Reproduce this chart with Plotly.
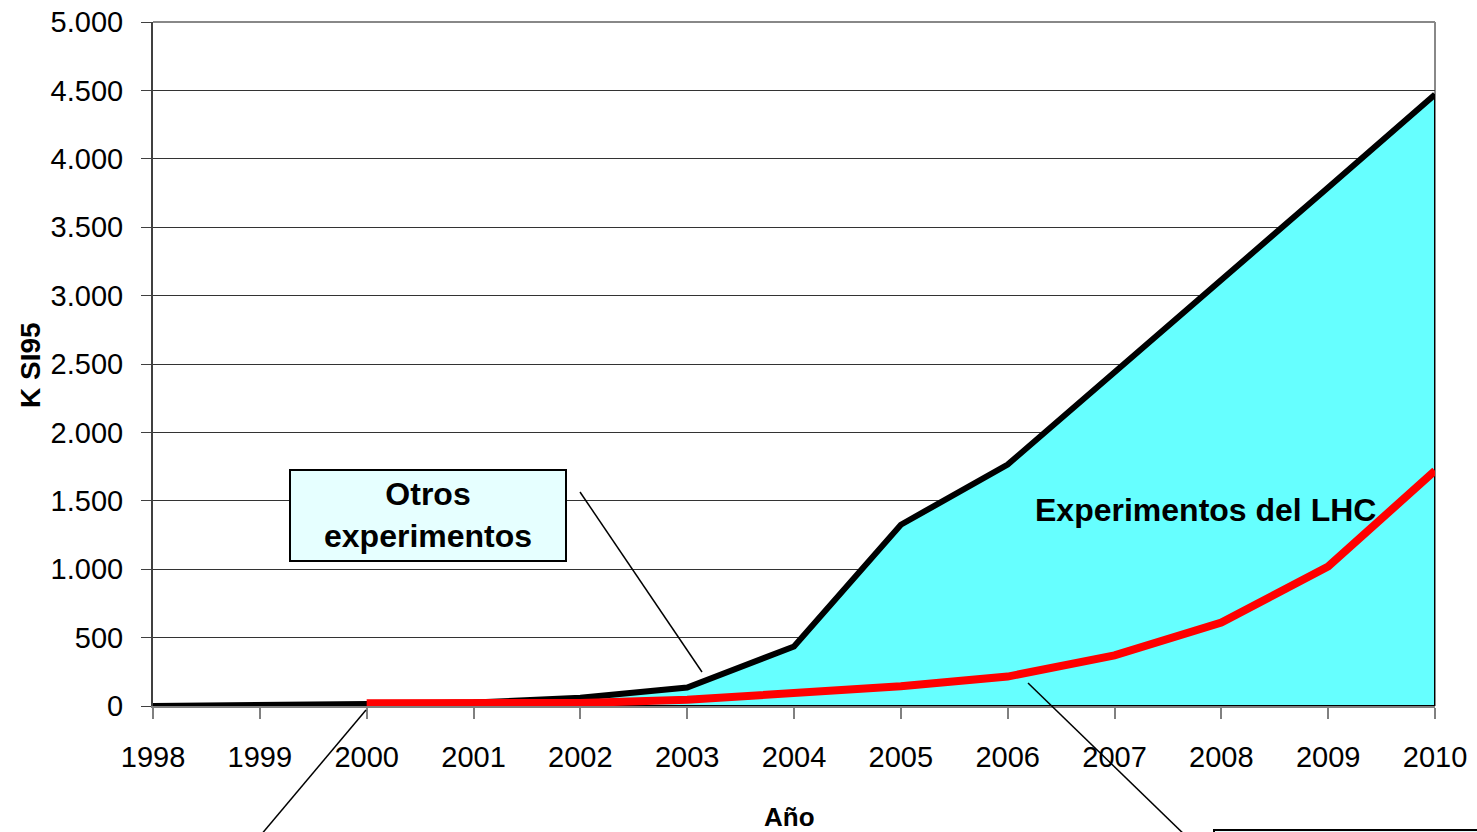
import plotly.graph_objects as go

# ---- data ----
years = [1998, 1999, 2000, 2001, 2002, 2003, 2004, 2005, 2006, 2007, 2008, 2009, 2010]
total_ksi95 = [0, 3, 15, 25, 60, 135, 435, 1325, 1765, 2440, 3110, 3790, 4470]
lhc_years = [2000, 2001, 2002, 2003, 2004, 2005, 2006, 2007, 2008, 2009, 2010]
lhc_ksi95 = [20, 20, 22, 45, 90, 145, 215, 370, 610, 1020, 1720]
y_ticks = [0, 500, 1000, 1500, 2000, 2500, 3000, 3500, 4000, 4500, 5000]
y_tick_text = ["0", "500", "1.000", "1.500", "2.000", "2.500", "3.000", "3.500", "4.000", "4.500", "5.000"]

W, H = 1477, 832
L, R, T, B = 153, 1435, 22, 706


def px(x):
    return (x - L) / (R - L)


def py(y):
    return (B - y) / (B - T)


FONT = "Liberation Sans, Arial, sans-serif"

fig = go.Figure()

# filled area (closed polygon so the right edge/bottom get outlined)
fig.add_trace(go.Scatter(
    x=years + [years[-1], years[0]],
    y=total_ksi95 + [0, 0],
    fill="toself", fillcolor="#66FFFF",
    line=dict(color="black", width=2),
    mode="lines", hoverinfo="skip", showlegend=False,
))
# thick top line
fig.add_trace(go.Scatter(
    x=years, y=total_ksi95, mode="lines",
    line=dict(color="black", width=6),
    showlegend=False,
))
# red line
fig.add_trace(go.Scatter(
    x=lhc_years, y=lhc_ksi95, mode="lines",
    line=dict(color="#FF0000", width=8),
    showlegend=False,
))

shapes = [
    # top/right frame
    dict(type="line", xref="paper", yref="paper", x0=0, x1=1, y0=1, y1=1,
         line=dict(color="#888888", width=2)),
    dict(type="line", xref="paper", yref="paper", x0=1, x1=1, y0=0, y1=1,
         line=dict(color="#888888", width=2), layer="below"),
    # Otros experimentos box
    dict(type="rect", xref="paper", yref="paper",
         x0=px(290), x1=px(566), y0=py(561), y1=py(470),
         fillcolor="#E6FFFF", line=dict(color="black", width=2)),
    # pointer lines
    dict(type="line", xref="paper", yref="paper",
         x0=px(580), y0=py(492), x1=px(702), y1=py(672),
         line=dict(color="black", width=1.5)),
    dict(type="line", xref="paper", yref="paper",
         x0=px(366), y0=py(710), x1=px(255), y1=py(842),
         line=dict(color="black", width=1.5)),
    dict(type="line", xref="paper", yref="paper",
         x0=px(1028), y0=py(683), x1=px(1190), y1=py(840),
         line=dict(color="black", width=1.5)),
    # bottom-right box (mostly off-page)
    dict(type="rect", xref="paper", yref="paper",
         x0=px(1214), x1=px(1490), y0=py(900), y1=py(830),
         fillcolor="#E6FFFF", line=dict(color="black", width=2)),
]

ann_common = dict(xref="paper", yref="paper", showarrow=False,
                  xanchor="center", yanchor="middle")
annotations = [
    dict(text="<b>Otros<br>experimentos</b>", x=px(428), y=py(515),
         font=dict(family=FONT, size=32, color="black"), align="center", **ann_common),
    dict(text="<b>Experimentos del LHC</b>", x=px(1205), y=py(510),
         font=dict(family=FONT, size=32, color="black"), **ann_common),
    dict(text="<b>Año</b>", x=px(789), y=py(817),
         font=dict(family=FONT, size=26, color="black"), **ann_common),
    dict(text="<b>K SI95</b>", x=px(30), y=py(365), textangle=-90,
         font=dict(family=FONT, size=28, color="black"), **ann_common),
]

fig.update_layout(
    width=W, height=H,
    margin=dict(l=L, r=W - R, t=T, b=H - B, autoexpand=False),
    plot_bgcolor="white", paper_bgcolor="white",
    shapes=shapes, annotations=annotations,
    font=dict(family=FONT, size=29, color="black"),
    showlegend=False,
)
fig.update_xaxes(
    range=[years[0], years[-1]], tickvals=years, ticktext=[str(y) for y in years],
    showgrid=False, zeroline=False, automargin=False,
    showline=True, linecolor="#808080", linewidth=2,
    ticks="outside", ticklen=11, tickcolor="#808080", tickwidth=2,
    ticklabelstandoff=13,
    tickfont=dict(family=FONT, size=29, color="black"),
)
fig.update_yaxes(
    range=[0, 5000], tickvals=y_ticks, ticktext=y_tick_text,
    showgrid=True, gridcolor="#333333", gridwidth=1, zeroline=False, automargin=False,
    showline=True, linecolor="#404040", linewidth=2,
    ticks="outside", ticklen=10, tickcolor="#404040", tickwidth=1,
    ticklabelstandoff=12,
    tickfont=dict(family=FONT, size=29, color="black"),
)

fig.write_html("out.html")
